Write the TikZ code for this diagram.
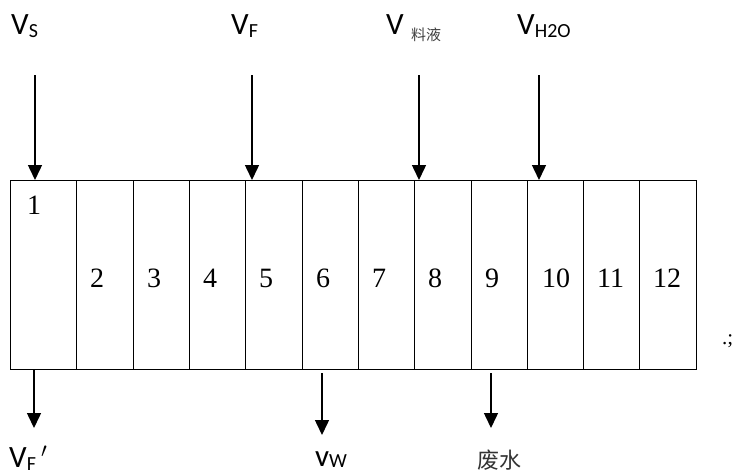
\documentclass[tikz,border=0pt]{standalone}
\usepackage{fontspec}
\setmainfont{Liberation Serif}
\newfontfamily\calfont{Carlito}
\newfontfamily\cjkfont{Noto Sans CJK SC}
\usetikzlibrary{arrows.meta}
\newcommand{\bigV}{\fontsize{31}{33}\selectfont}
\newcommand{\subsz}{\fontsize{20}{22}\selectfont}
\newcommand{\lowr}[1]{\raisebox{-3pt}{\subsz #1}}
\begin{document}
\begin{tikzpicture}[x=1pt,y=-1pt,
  cell/.style={draw, line width=1pt, rectangle, minimum height=189pt, inner sep=0pt, outer sep=0pt},
  num/.style={anchor=base west, inner sep=0pt, font=\fontsize{28}{30}\selectfont},
  lab/.style={anchor=base west, inner sep=0pt, font=\calfont\bigV},
  arr/.style={line width=1.5pt, -{Triangle[length=15pt,width=14pt]}}]
\useasboundingbox (0,0) rectangle (738,474);
% cells
\node[cell, minimum width=66pt] (c1) at (43,274.5) {};
\foreach \i/\l/\r in {2/76/133,3/133/189,4/189/245,5/245/302,6/302/358,7/358/414,8/414/471,9/471/527,10/527/583,11/583/639,12/639/696}{
  \node[cell, minimum width={\r-\l}] (c\i) at ({(\l+\r)/2},274.5) {};
}
% numbers
\node[num] (n1) at (27,214) {1};
\foreach \i/\x in {2/90,3/147,4/203,5/259,6/316,7/372,8/428,9/485,10/542,11/597,12/653}{
  \node[num] (n\i) at (\x,287) {\i};
}
% top labels
\node[lab] (lS) at (11,34) {V\lowr{S}};
\node[lab] (lF) at (231,34) {V\lowr{F}};
\node[lab] (lL) at (386,34) {V};
\node[anchor=base west, inner sep=0pt, font=\cjkfont\fontsize{15}{17}\selectfont, text=black!75] (lL2) at (411,40) {料液};
\node[lab] (lH) at (517,34) {V\lowr{H2O}};
% top arrows
\coordinate (aS) at (35,75);
\coordinate (aF) at (252,75);
\coordinate (aL) at (419,75);
\coordinate (aH) at (539,75);
\draw[arr] (aS) -- (aS |- c1.north);
\draw[arr] (aF) -- (aF |- c5.north);
\draw[arr] (aL) -- (aL |- c8.north);
\draw[arr] (aH) -- (aH |- c10.north);
% bottom arrows
\coordinate (bF) at (34,428);
\coordinate (bW) at (322,435);
\coordinate (bX) at (491,428);
\coordinate (bW0) at (322,373);
\coordinate (bX0) at (491,373);
\draw[arr] (bF |- c1.south) -- (bF);
\draw[arr] (bW0) -- (bW);
\draw[arr] (bX0) -- (bX);
% bottom labels
\node[lab] (lFp) at (9,467) {V\lowr{F}\,$'$};
\node[lab] (lW) at (315,466) {v\raisebox{-1pt}{\subsz W}};
\node[anchor=base west, inner sep=0pt, font=\cjkfont\fontsize{22}{24}\selectfont, text=black!80] (lWaste) at (477,468) {废水};
% trailing mark
\node[anchor=base west, inner sep=0pt, font=\fontsize{21}{23}\selectfont] (semi) at (722,344) {.;};
\end{tikzpicture}
\end{document}
